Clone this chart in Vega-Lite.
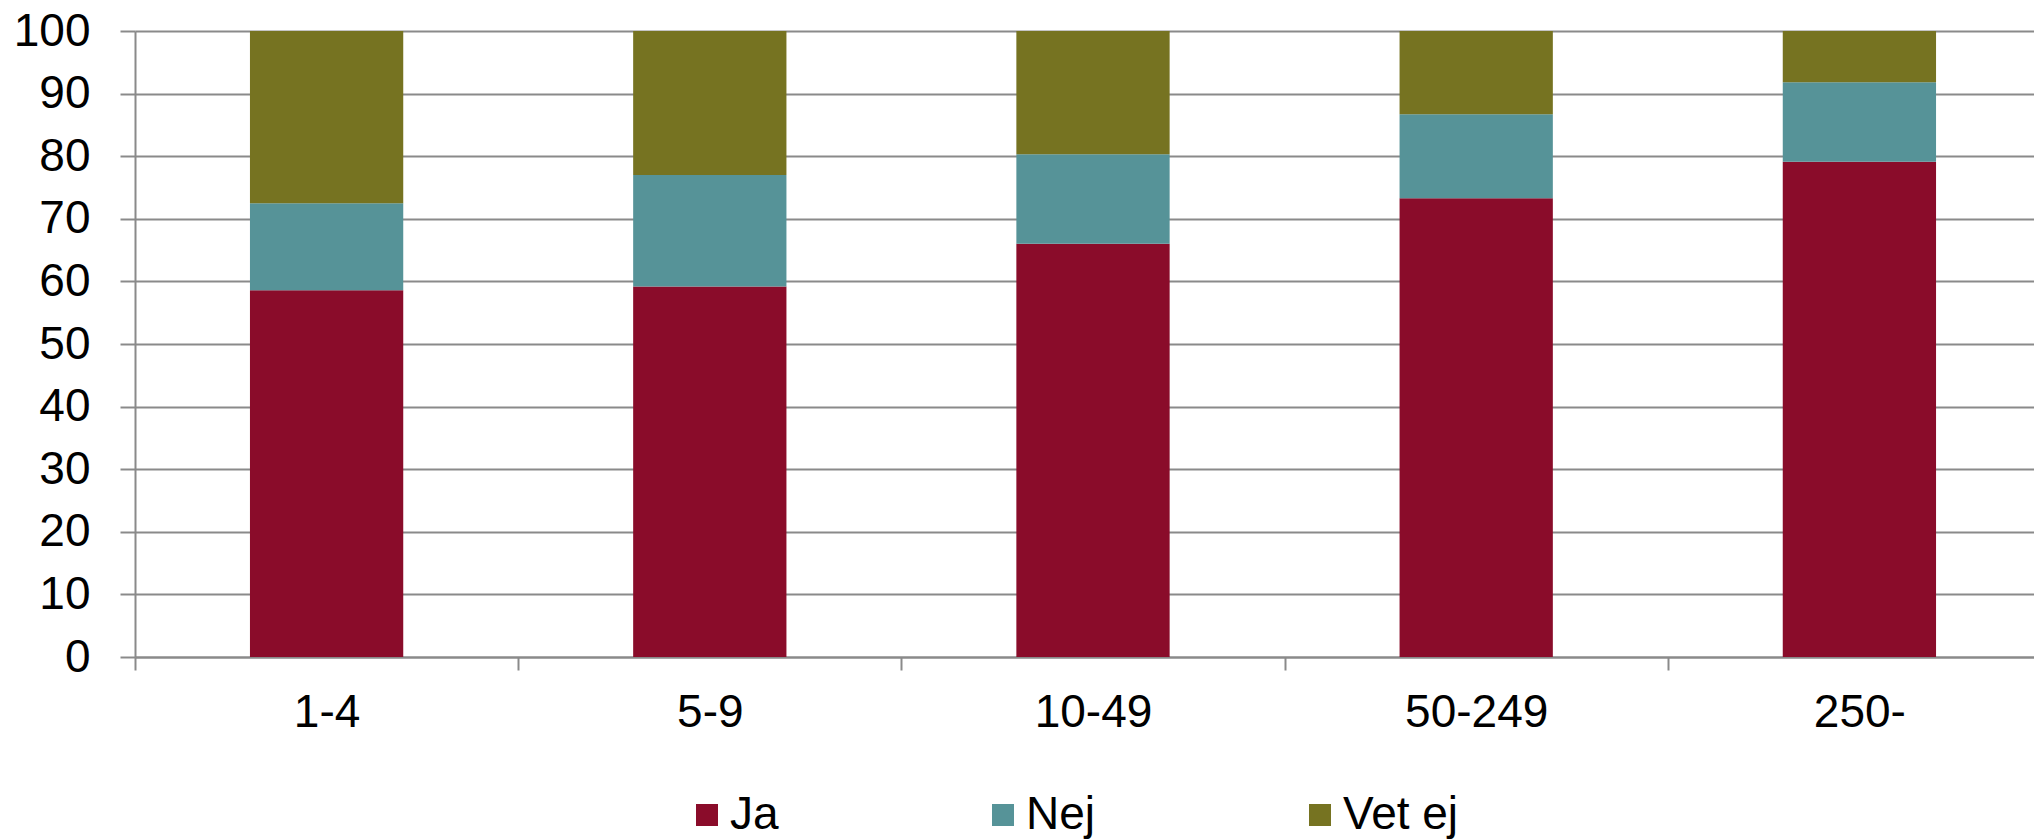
{
  "$schema": "https://vega.github.io/schema/vega-lite/v6.json",
  "autosize": {"type": "none"},
  "padding": {"left": 135, "top": 31, "right": 0, "bottom": 182},
  "width": 1899,
  "height": 626,
  "background": "white",
  "config": {
    "view": {"stroke": null},
    "font": "Liberation Sans",
    "axis": {
      "labelFont": "Liberation Sans",
      "labelFontSize": 46,
      "labelColor": "#000000",
      "domainColor": "#8A8A8A",
      "domainWidth": 2,
      "tickColor": "#8A8A8A",
      "tickWidth": 2,
      "gridColor": "#8A8A8A",
      "gridWidth": 2,
      "gridOpacity": 1,
      "title": null
    },
    "legend": {
      "labelFont": "Liberation Sans",
      "labelFontSize": 46,
      "labelColor": "#000000",
      "padding": 0
    }
  },
  "data": {
    "values": [
      {"storlek": "1-4", "svar": "Ja", "ordning": 1, "andel": 58.6},
      {"storlek": "1-4", "svar": "Nej", "ordning": 2, "andel": 13.9},
      {"storlek": "1-4", "svar": "Vet ej", "ordning": 3, "andel": 27.5},
      {"storlek": "5-9", "svar": "Ja", "ordning": 1, "andel": 59.2},
      {"storlek": "5-9", "svar": "Nej", "ordning": 2, "andel": 17.8},
      {"storlek": "5-9", "svar": "Vet ej", "ordning": 3, "andel": 23.0},
      {"storlek": "10-49", "svar": "Ja", "ordning": 1, "andel": 66.0},
      {"storlek": "10-49", "svar": "Nej", "ordning": 2, "andel": 14.3},
      {"storlek": "10-49", "svar": "Vet ej", "ordning": 3, "andel": 19.7},
      {"storlek": "50-249", "svar": "Ja", "ordning": 1, "andel": 73.3},
      {"storlek": "50-249", "svar": "Nej", "ordning": 2, "andel": 13.4},
      {"storlek": "50-249", "svar": "Vet ej", "ordning": 3, "andel": 13.3},
      {"storlek": "250-", "svar": "Ja", "ordning": 1, "andel": 79.1},
      {"storlek": "250-", "svar": "Nej", "ordning": 2, "andel": 12.7},
      {"storlek": "250-", "svar": "Vet ej", "ordning": 3, "andel": 8.2}
    ]
  },
  "mark": {"type": "bar"},
  "encoding": {
    "x": {
      "field": "storlek",
      "type": "nominal",
      "sort": ["1-4", "5-9", "10-49", "50-249", "250-"],
      "scale": {"range": [0, 1916], "paddingInner": 0.6, "paddingOuter": 0.3},
      "axis": {
        "labelAngle": 0,
        "tickOffset": -191.6,
        "labelOffset": 191.6,
        "tickSize": 13,
        "labelPadding": 20,
        "grid": false
      }
    },
    "y": {
      "field": "andel",
      "type": "quantitative",
      "stack": "zero",
      "scale": {"domain": [0, 100], "nice": false},
      "axis": {
        "values": [0, 10, 20, 30, 40, 50, 60, 70, 80, 90, 100],
        "tickSize": 15,
        "labelPadding": 30,
        "grid": true
      }
    },
    "color": {
      "field": "svar",
      "type": "nominal",
      "scale": {"domain": ["Ja", "Nej", "Vet ej"], "range": ["#8A0C2A", "#569398", "#767321"]},
      "legend": {
        "title": null,
        "orient": "none",
        "direction": "horizontal",
        "legendX": 549,
        "legendY": 761,
        "symbolType": "square",
        "symbolSize": 484,
        "symbolStrokeWidth": 0,
        "symbolOpacity": 1,
        "labelOffset": 0,
        "columnPadding": 201
      }
    },
    "order": {"field": "ordning", "type": "quantitative"}
  }
}
